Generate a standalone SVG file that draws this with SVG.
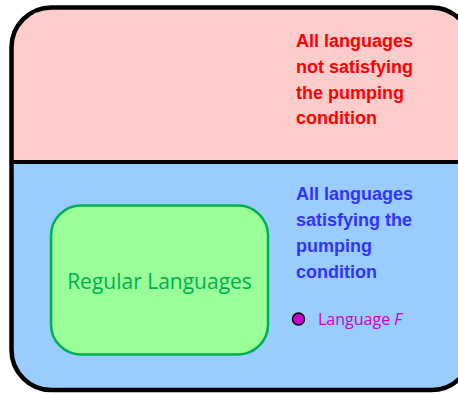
<svg xmlns="http://www.w3.org/2000/svg" width="458" height="394" viewBox="0 0 458 394">
  <defs>
    <clipPath id="outerClip">
      <rect x="11.5" y="7.5" width="460" height="382.5" rx="40" ry="40"/>
    </clipPath>
    <style>
      .lbl { font-family: "Liberation Sans", Arial, sans-serif; font-weight: bold; font-size: 18px; }
      .red { fill: #ff0000; }
      .blue { fill: #3333ff; }
    </style>
  </defs>
  <rect width="458" height="394" fill="#ffffff"/>
  <g id="all-languages">
    <g clip-path="url(#outerClip)">
      <rect x="0" y="0" width="480" height="162" fill="#ffcccc"/>
      <rect x="0" y="162" width="480" height="240" fill="#99ccff"/>
    </g>
    <line x1="11.5" y1="162" x2="472" y2="162" stroke="#000" stroke-width="4"/>
    <rect x="11.5" y="7.5" width="460" height="382.5" rx="40" ry="40" fill="none" stroke="#000" stroke-width="4.5"/>
  </g>
  <g id="not-pumping">
    <text class="lbl red" x="296" y="47">All languages</text>
    <text class="lbl red" x="296" y="73">not satisfying</text>
    <text class="lbl red" x="296" y="99">the pumping</text>
    <text class="lbl red" x="296" y="124">condition</text>
  </g>
  <g id="pumping">
    <text class="lbl blue" x="296" y="200">All languages</text>
    <text class="lbl blue" x="296" y="226">satisfying the</text>
    <text class="lbl blue" x="296" y="252">pumping</text>
    <text class="lbl blue" x="296" y="278">condition</text>
  </g>
  <g id="regular-languages">
    <rect x="51" y="205.5" width="217" height="149" rx="30" ry="30" fill="#99ff99" stroke="#00b050" stroke-width="2.5"/>
    <text x="159.5" y="289" text-anchor="middle" font-family="'Open Sans', 'Liberation Sans', sans-serif" font-size="21" fill="#00b050">Regular Languages</text>
  </g>
  <g id="language-f">
    <circle cx="298.5" cy="319" r="6" fill="#cc00cc" stroke="#000" stroke-width="1.5"/>
    <text x="318" y="325" font-family="'Open Sans', 'Liberation Sans', sans-serif" font-size="16" fill="#cc00cc">Language <tspan font-style="italic">F</tspan></text>
  </g>
  <g id="connectors"/>
</svg>
